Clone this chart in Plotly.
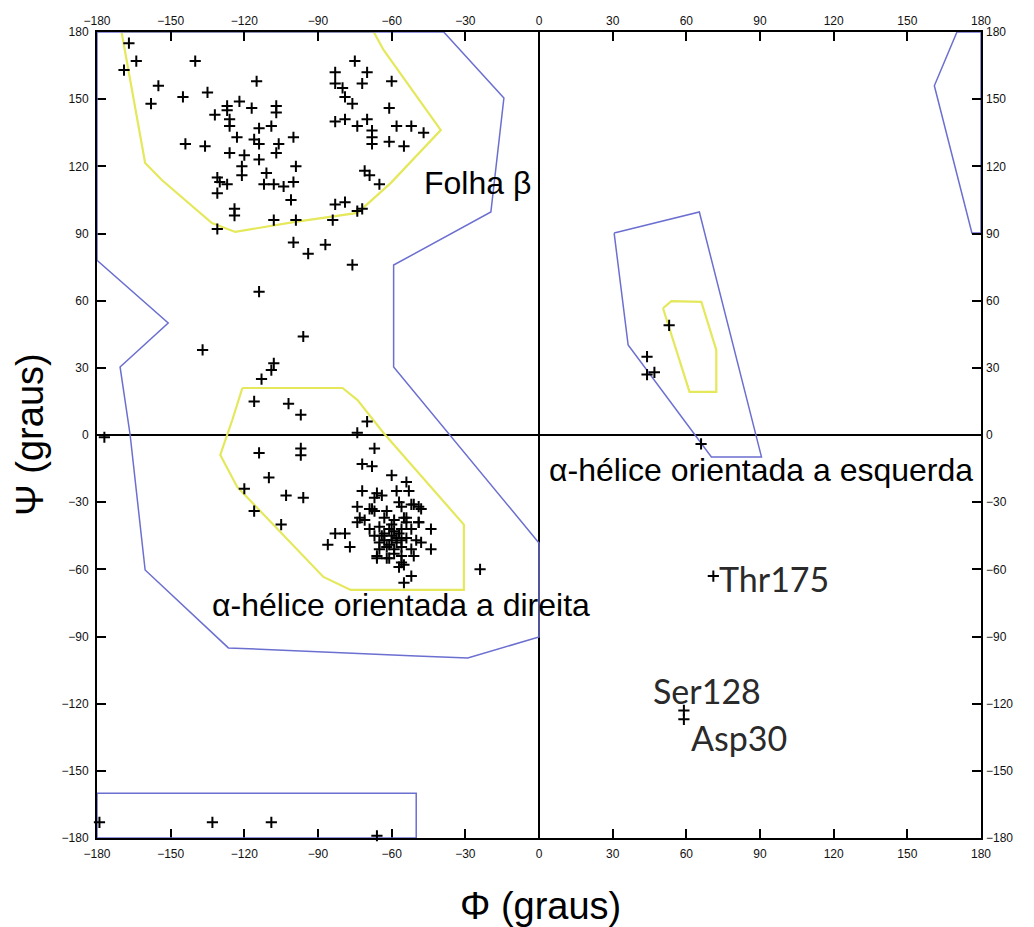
import plotly.graph_objects as go

# --- residue dihedral angles (phi, psi) ---
phi = [
    # beta sheet region
    -167, -164, -169, -140, -155, -158, -145, -135, -115, -132, -127, -127, -122, -117, -107, -107,
    -126, -126, -114, -109, -144, -136, -123, -116, -114, -106, -100, -126, -120, -107, -114, -121,
    -121, -99, -131, -130, -127, -111, -112, -108, -104, -100, -131, -101, -124, -124, -131, -108,
    -99, -84, -83, -79, -74, -72, -71, -69, -65,
    -75, -83, -70, -83, -80, -72, -60, -79, -76, -61, -83, -79, -74, -70, -68, -68, -68, -58, -52,
    -47, -61, -55,
    # between regions
    -100, -94, -87, -76, -114, -96, -137, -108, -109, -113, -116, -102, -97, -70, -74, -177,
    # right-handed helix region
    -114, -97, -97, -67, -72, -68, -110, -120, -103, -96, -116, -105, -60, -72, -54, -58, -53, -67,
    -64, -74, -69, -56, -52, -48, -73, -67, -54, -74, -49, -44, -83, -79, -86, -77, -44, -66, -62,
    -56, -52, -55, -24,
    -66, -57, -51, -68, -62, -71, -49, -55, -49, -69, -65, -60, -56, -52, -67, -63, -60, -58, -54,
    -50, -62, -59, -56, -52, -48, -65, -66, -61, -56, -51, -57, -55, -63, -59, -61, -65, -54, -59,
    -63, -58, -60, -57, -61, -59, -64, -56,
    # left-handed helix region
    53, 44, 44, 47, 66,
    # labelled outliers
    71, 59, 59,
    # bottom strip
    -179, -133, -109, -66,
]
psi = [
    175, 167, 163, 167, 156, 148, 151, 153, 158, 143, 147, 145, 149, 146, 147, 144,
    141, 138, 137, 138, 130, 129, 133, 132, 130, 130, 133, 126, 125, 126, 123, 120,
    116, 120, 115, 113, 112, 117, 112, 112, 111, 113, 108, 105, 101, 98, 92, 96,
    96, 96, 103, 104, 100, 101, 118, 116, 112,
    167, 162, 162, 157, 155, 157, 158, 151, 148, 146, 140, 141, 138, 141, 136, 133, 130, 138, 138,
    135, 131, 129,
    86, 81, 85, 76, 64, 44, 38, 32, 29, 25, 15, 14, 9, 6, 1, -1,
    -8, -6, -9, -6, -13, -14, -19, -24, -27, -28, -34, -40, -18, -25, -21, -25, -25, -28,
    -27, -32, -33, -32, -31, -33, -37, -34, -37, -39, -39, -42, -44, -44, -49, -50, -51, -55, -55,
    -57, -63, -66, -60,
    -26, -30, -31, -33, -34, -38, -32, -37, -39, -42, -41, -40, -42, -42, -45, -47, -45, -48, -46,
    -47, -50, -51, -50, -51, -48, -51, -54, -55, -54, -54, -59, -58, -44, -43, -42, -48, -39, -38,
    -37, -46, -47, -44, -49, -53, -45, -47,
    49, 35, 27, 28, -4,
    -63, -123, -127,
    -173, -173, -173, -179,
]

# --- region outlines ---
allowed_phi = [-38.8, -14.3, -19.6, -59.2, -59.2, -37.1, 0, 0, -29, -50, -126.5, -160.4, -166.5,
               -170.6, -151, -180, -180, -38.8]
allowed_psi = [180, 150.5, 99.6, 75.9, 30.4, 0.9, -48.2, -90.2, -99.6, -98.7, -95.1, -60.3, 0,
               30.4, 50, 78, 180, 180]
lh_allowed_phi = [30.6, 65.3, 90.6, 70.2, 36.3, 30.6]
lh_allowed_psi = [90.2, 99.6, -9.8, -9.8, 40.2, 90.2]
edge_allowed_phi = [170.2, 161, 176.3, 180, 180, 170.2]
edge_allowed_psi = [180, 156, 90.2, 90.2, 180, 180]
bottom_allowed_phi = [-180, -50, -50, -180, -180]
bottom_allowed_psi = [-160, -160, -180, -180, -160]

core_beta_phi = [-170, -160.4, -153.6, -133.2, -123.7, -100, -73.9, -60.4, -40, -63.3, -67.3, -170]
core_beta_psi = [180, 121.5, 113.9, 94.7, 90.7, 95.1, 99.2, 112.5, 136.2, 172, 180, 180]
core_alpha_phi = [-120.8, -80, -73.9, -63.3, -30.6, -30.6, -76.7, -87.8, -122.9, -129.8, -124.9, -120.8]
core_alpha_psi = [21, 21, 15.6, 0.9, -40, -69.2, -69.2, -63.4, -23.2, -8.9, 6.7, 21]
core_lh_phi = [50.5, 53.9, 66.1, 72.2, 72.2, 61.3, 50.5]
core_lh_psi = [56.6, 59.8, 59.5, 38, 19.3, 19.3, 56.6]

ticks = list(range(-180, 181, 30))

BLUE = '#6b6fd0'
YELLOW = '#e4e85a'

fig = go.Figure()

for xs, ys in [(core_beta_phi, core_beta_psi), (core_alpha_phi, core_alpha_psi), (core_lh_phi, core_lh_psi)]:
    fig.add_trace(go.Scatter(x=xs, y=ys, mode='lines', line=dict(color=YELLOW, width=2.2),
                             hoverinfo='skip', cliponaxis=False))

for xs, ys in [(allowed_phi, allowed_psi), (lh_allowed_phi, lh_allowed_psi),
               (edge_allowed_phi, edge_allowed_psi), (bottom_allowed_phi, bottom_allowed_psi)]:
    fig.add_trace(go.Scatter(x=xs, y=ys, mode='lines', line=dict(color=BLUE, width=1.5),
                             hoverinfo='skip', cliponaxis=False))

fig.add_trace(go.Scatter(x=phi, y=psi, mode='markers', cliponaxis=False,
                         marker=dict(symbol='cross-thin', size=8, line=dict(width=2, color='black'))))

# invisible trace so the mirrored top/right axes get drawn
fig.add_trace(go.Scatter(x=[0], y=[0], xaxis='x2', yaxis='y2', mode='markers',
                         marker=dict(opacity=0), hoverinfo='skip'))

tickfont = dict(family='Liberation Sans', size=12, color='#111')
common = dict(range=[-180, 180], tickvals=ticks, ticks='inside', ticklen=9, tickwidth=2,
              tickcolor='black', showgrid=False, tickfont=tickfont, fixedrange=True,
              automargin=False, ticklabelstandoff=4)

# page body has an 8px margin, so the figure is shrunk by that much
W, H = 1026, 919
ML, MR, MT, MB = 89, 53, 24, 89

fig.update_layout(
    width=W, height=H,
    margin=dict(l=ML, r=MR, t=MT, b=MB),
    plot_bgcolor='white', paper_bgcolor='white',
    showlegend=False,
    xaxis=dict(**common, showline=True, linewidth=2, linecolor='black', mirror=True,
               zeroline=True, zerolinewidth=2, zerolinecolor='black', layer='below traces'),
    yaxis=dict(**common, showline=True, linewidth=2, linecolor='black', mirror=True,
               zeroline=True, zerolinewidth=2, zerolinecolor='black', layer='below traces'),
    xaxis2=dict(**common, overlaying='x', side='top', zeroline=False, showline=False),
    yaxis2=dict(**common, overlaying='y', side='right', zeroline=False, showline=False),
)

label_font = dict(family='Liberation Sans', size=32, color='black')
res_font = dict(family='Lato', size=34, color='#2a2a2a')
notes = [
    (-47.8, 112.6, 'Folha β', label_font),
    (3.3, -15.6, 'α-hélice orientada a esquerda', label_font),
    (-133.9, -75.9, 'α-hélice orientada a direita', label_font),
    (72.5, -63.9, 'Thr175', res_font),
    (45.7, -113.9, 'Ser128', res_font),
    (61.2, -134.9, 'Asp30', res_font),
]
for x, y, t, f in notes:
    fig.add_annotation(x=x, y=y, xref='x', yref='y', text=t, showarrow=False,
                       xanchor='left', yanchor='middle', font=f)

# axis titles placed by pixel position (figure pixels)
pw, ph = W - ML - MR, H - MT - MB
fig.add_annotation(x=(22 - ML) / pw, y=(H - MB - 427) / ph, xref='paper', yref='paper',
                   text='Ψ (graus)', showarrow=False, textangle=-90,
                   xanchor='center', yanchor='middle',
                   font=dict(family='Liberation Sans', size=38, color='black'))
fig.add_annotation(x=(532 - ML) / pw, y=(H - MB - 898) / ph, xref='paper', yref='paper',
                   text='Φ (graus)', showarrow=False, xanchor='center', yanchor='middle',
                   font=dict(family='Liberation Sans', size=38, color='black'))

fig.write_html("out.html")
